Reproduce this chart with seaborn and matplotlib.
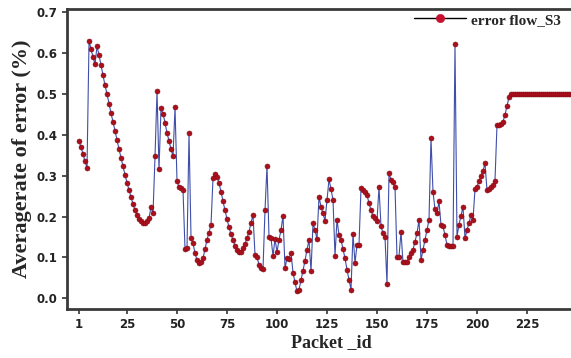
import numpy as np
import pandas as pd
import matplotlib
matplotlib.use("Agg")
import matplotlib.pyplot as plt
import seaborn as sns

# ------------------------------
# Data
# ------------------------------
packet_id = list(range(1, 261))

error_part1 = [  # packets 1-60
    0.385, 0.370, 0.352, 0.335, 0.320, 0.630, 0.610, 0.590, 0.573, 0.617,
    0.595, 0.570, 0.546, 0.521, 0.500, 0.476, 0.453, 0.432, 0.410, 0.387,
    0.365, 0.344, 0.324, 0.302, 0.283, 0.265, 0.248, 0.231, 0.216, 0.204,
    0.194, 0.188, 0.185, 0.184, 0.188, 0.196, 0.224, 0.208, 0.347, 0.507,
    0.316, 0.465, 0.452, 0.430, 0.404, 0.386, 0.365, 0.348, 0.467, 0.286,
    0.273, 0.270, 0.265, 0.120, 0.123, 0.404, 0.147, 0.135, 0.110, 0.094,
]
error_part2 = [  # packets 61-120
    0.086, 0.090, 0.098, 0.120, 0.143, 0.161, 0.180, 0.294, 0.304, 0.298,
    0.282, 0.261, 0.237, 0.215, 0.194, 0.174, 0.157, 0.143, 0.129, 0.119,
    0.114, 0.114, 0.123, 0.133, 0.147, 0.163, 0.185, 0.204, 0.106, 0.102,
    0.082, 0.074, 0.072, 0.216, 0.324, 0.150, 0.147, 0.104, 0.145, 0.114,
    0.143, 0.167, 0.202, 0.074, 0.098, 0.096, 0.112, 0.063, 0.039, 0.017,
    0.021, 0.044, 0.068, 0.092, 0.119, 0.143, 0.066, 0.184, 0.167, 0.145,
]
error_part3 = [  # packets 121-180
    0.249, 0.224, 0.208, 0.190, 0.241, 0.291, 0.267, 0.241, 0.104, 0.192,
    0.155, 0.143, 0.120, 0.098, 0.070, 0.045, 0.021, 0.158, 0.086, 0.131,
    0.131, 0.269, 0.265, 0.261, 0.253, 0.233, 0.216, 0.202, 0.196, 0.190,
    0.272, 0.176, 0.160, 0.150, 0.035, 0.306, 0.290, 0.284, 0.272, 0.102,
    0.102, 0.163, 0.088, 0.088, 0.090, 0.101, 0.110, 0.119, 0.139, 0.159,
    0.192, 0.094, 0.119, 0.143, 0.167, 0.192, 0.392, 0.261, 0.218, 0.208,
]
error_part4 = [  # packets 181-217
    0.237, 0.180, 0.176, 0.155, 0.131, 0.128, 0.128, 0.128, 0.622, 0.151,
    0.180, 0.202, 0.224, 0.147, 0.167, 0.184, 0.204, 0.192, 0.267, 0.273,
    0.286, 0.300, 0.312, 0.330, 0.265, 0.267, 0.272, 0.277, 0.288, 0.424,
    0.425, 0.427, 0.432, 0.449, 0.471, 0.492, 0.500,
]
error_tail = [0.5] * 43  # packets 218-260, flat at 0.5

error_rate = error_part1 + error_part2 + error_part3 + error_part4 + error_tail

x_ticks = [1, 25, 50, 75, 100, 125, 150, 175, 200, 225]
y_ticks = [0.0, 0.1, 0.2, 0.3, 0.4, 0.5, 0.6, 0.7]

df = pd.DataFrame({"packet_id": packet_id, "error": error_rate})

# ------------------------------
# Plot
# ------------------------------
sns.set_style("white")
plt.rcParams["font.family"] = ["Liberation Serif", "DejaVu Serif"]

fig = plt.figure(figsize=(5.71, 3.58), dpi=100)
# axes run past the right edge of the picture, as in the reference
ax = fig.add_axes([0.1165, 0.137, 0.929, 0.838])

sns.lineplot(data=df, x="packet_id", y="error", ax=ax,
             color="#3f4fa8", linewidth=0.8,
             marker="o", markersize=3.6,
             markerfacecolor="#a8101c", markeredgecolor="#8a0c17",
             markeredgewidth=0.4, label="error flow_S3")

ax.set_xlim(-5.25, 260)
ax.set_ylim(-0.026, 0.708)
ax.set_xticks(x_ticks)
ax.set_yticks(y_ticks)
ax.set_yticklabels([f"{v:.1f}" for v in y_ticks])

for lab in ax.get_xticklabels() + ax.get_yticklabels():
    lab.set_fontfamily("DejaVu Sans")
    lab.set_fontweight("bold")
    lab.set_fontsize(8.5)
    lab.set_color("#222222")

ax.tick_params(axis="both", direction="out", length=3.5, width=1.2,
               color="#333333", bottom=True, left=True, pad=3)

for side in ["left", "bottom", "top", "right"]:
    ax.spines[side].set_linewidth(2)
    ax.spines[side].set_color("#3a3a3a")

ax.set_xlabel("Packet _id", fontsize=13, fontweight="bold", labelpad=2)
ax.set_ylabel("Averagerate of error (%)", fontsize=16, fontweight="bold",
              labelpad=3)

leg = ax.legend(loc="upper left", bbox_to_anchor=(0.712, 0.985),
                bbox_transform=fig.transFigure, frameon=False,
                handlelength=3.4, handletextpad=0.3, borderpad=0,
                prop={"family": "Liberation Serif", "weight": "bold",
                      "size": 11})
for line in leg.get_lines():
    line.set_color("black")
    line.set_linewidth(1.0)
    line.set_markerfacecolor("#c8102e")
    line.set_markeredgecolor("#c8102e")
    line.set_markersize(6)

fig.savefig("out.png", dpi=100)
